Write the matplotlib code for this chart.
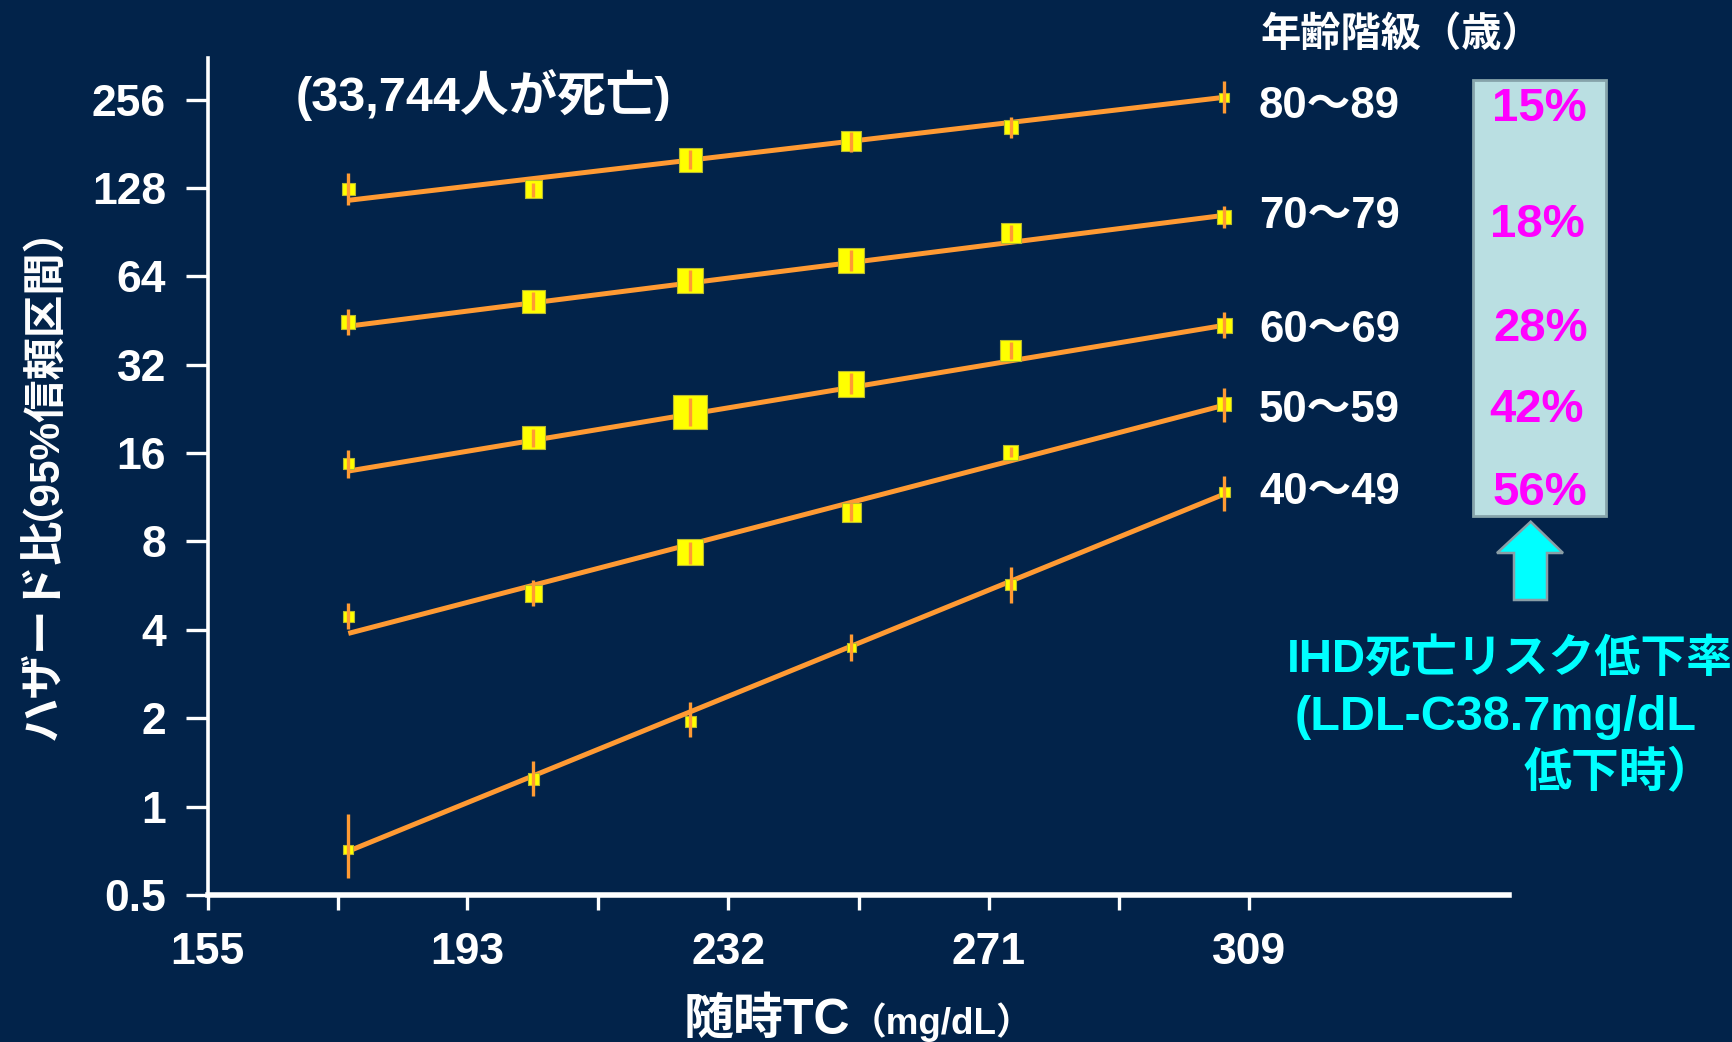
import matplotlib
matplotlib.use("Agg")
import matplotlib.pyplot as plt
from matplotlib.patches import Polygon, Rectangle

plt.rcParams['font.family'] = ['Liberation Sans', 'Noto Sans CJK JP', 'DejaVu Sans']
plt.rcParams['font.weight'] = 'bold'

# ---------------- data ----------------
tc_mgdl = [175.6, 203.1, 226.4, 250.3, 274.0, 305.7]   # group mean TC (mg/dL)

age_groups = ['80〜89', '70〜79', '60〜69', '50〜59', '40〜49']
reduction = ['15%', '18%', '28%', '42%', '56%']

hr_80 = [127, 127, 159.7, 185, 206, 260]
lo_80 = [111.8, 119, 148.3, 169.5, 189, 230]
hi_80 = [143.7, 132.9, 172, 198, 222.8, 295.7]
w_80 = [12, 16, 22, 19, 13, 9]
fit_80 = [116.2, 260.7]

hr_70 = [44.7, 52.6, 61.9, 72.4, 89.9, 102]
lo_70 = [40.3, 49.0, 56.9, 66.6, 84.3, 93.3]
hi_70 = [49.5, 56.5, 67.1, 78.6, 95.5, 110.9]
w_70 = [13, 22, 24, 24, 19, 13]
fit_70 = [43.3, 103.3]

hr_60 = [14.75, 18.1, 22.1, 27.5, 35.7, 43.6]
lo_60 = [13.2, 16.75, 19.75, 25.4, 33.4, 39.4]
hi_60 = [16.36, 19.4, 24.6, 29.9, 38.2, 48.3]
w_60 = [10, 21, 32, 24, 20, 14]
fit_60 = [13.9, 43.6]

hr_50 = [4.45, 5.33, 7.35, 10.06, 16.1, 23.5]
lo_50 = [4.02, 4.82, 6.69, 9.38, 15.5, 20.5]
hi_50 = [4.93, 5.93, 7.98, 10.8, 16.75, 26.6]
w_50 = [10, 16, 24, 18, 14, 13]
fit_50 = [3.89, 23.3]

hr_40 = [0.715, 1.24, 1.95, 3.49, 5.72, 11.8]
lo_40 = [0.57, 1.09, 1.72, 3.13, 4.93, 10.2]
hi_40 = [0.945, 1.43, 2.27, 3.86, 6.53, 13.4]
w_40 = [9, 11, 10, 8, 10, 10]
fit_40 = [0.705, 11.6]

yticks = [0.5, 1, 2, 4, 8, 16, 32, 64, 128, 256]
ytick_labels = ['0.5', '1', '2', '4', '8', '16', '32', '64', '128', '256']
xticks = [154.7, 193.3, 232.0, 270.7, 309.4]
xtick_labels = ['155', '193', '232', '271', '309']
xminor = [174.0, 212.7, 251.4, 290.0]

# ---------------- style ----------------
BG = '#02234A'
ORANGE = '#FF9A33'
YELLOW = '#FFFF00'
WHITE = 'white'
CYAN = '#00FFFF'
MAGENTA = '#FF00FF'

W_PX, H_PX = 1732, 1042
def fx(px):
    return px / W_PX
def fy(py):
    return 1 - py / H_PX

fig = plt.figure(figsize=(17.32, 10.42), dpi=100, facecolor=BG)
ax = fig.add_axes([fx(207.6), fy(895), fx(1509) - fx(207.6), fy(58) - fy(895)])
ax.set_facecolor(BG)

ax.set_yscale('log', base=2)
ax.set_ylim(0.5, 354.8)
ax.set_xlim(154.7, 348.0)

series = [
    (hr_80, lo_80, hi_80, w_80, fit_80),
    (hr_70, lo_70, hi_70, w_70, fit_70),
    (hr_60, lo_60, hi_60, w_60, fit_60),
    (hr_50, lo_50, hi_50, w_50, fit_50),
    (hr_40, lo_40, hi_40, w_40, fit_40),
]

for hr, lo, hi, w, fit in series:
    ax.plot([tc_mgdl[0], tc_mgdl[-1]], fit, color=ORANGE, lw=3.6,
            solid_capstyle='butt', zorder=3)
    ax.scatter(tc_mgdl, hr, marker='s', s=[(1.07 * v / 1.389) ** 2 for v in w],
               color=YELLOW, edgecolors='#B8B830', linewidths=0.8, zorder=4)
    ax.vlines(tc_mgdl, lo, hi, color=ORANGE, lw=2.4, zorder=5)

for s in ['top', 'right']:
    ax.spines[s].set_visible(False)
ax.spines['left'].set_color(WHITE)
ax.spines['left'].set_linewidth(2.6)
ax.spines['bottom'].set_color(WHITE)
ax.spines['bottom'].set_linewidth(4.0)

ax.set_yticks(yticks)
ax.set_yticklabels(ytick_labels)
ax.yaxis.set_minor_locator(matplotlib.ticker.NullLocator())
ax.set_xticks(xticks)
ax.set_xticklabels(xtick_labels)
ax.set_xticks(xminor, minor=True)
ax.tick_params(axis='y', which='major', direction='out', length=16, width=2.4,
               color=WHITE, labelcolor=WHITE, labelsize=32, pad=14)
ax.tick_params(axis='x', which='both', direction='out', length=11, width=2.4,
               color=WHITE, labelcolor=WHITE, labelsize=32, pad=16)
for lab in ax.get_xticklabels() + ax.get_yticklabels():
    lab.set_fontweight('bold')

# ---------------- axis labels ----------------
fig.text(fx(44), fy(740), 'ハザード比', rotation=90, rotation_mode='anchor',
         ha='left', va='center', color=WHITE, fontsize=32, fontweight='bold')
fig.text(fx(20), fy(520), '（95%信頼区間）', rotation=90, rotation_mode='anchor',
         ha='left', va='center', color=WHITE, fontsize=30.5, fontweight='bold')

fig.text(fx(850), fy(1034), '随時TC', ha='right', va='baseline',
         color=WHITE, fontsize=36, fontweight='bold')
fig.text(fx(850), fy(1034), '（mg/dL）', ha='left', va='baseline',
         color=WHITE, fontsize=26.5, fontweight='bold')

# ---------------- annotations ----------------
fig.text(fx(296), fy(95), '(33,744人が死亡)', ha='left', va='center',
         color=WHITE, fontsize=35, fontweight='bold')
fig.text(fx(1261), fy(35), '年齢階級（歳）', ha='left', va='center',
         color=WHITE, fontsize=29, fontweight='bold')

label_y = [106, 216.5, 330, 411, 493]
for lab, yy in zip(age_groups, label_y):
    fig.text(fx(1259), fy(yy), lab, ha='left', va='center',
             color=WHITE, fontsize=31.5, fontweight='bold')

# reduction box
fig.patches.append(Rectangle((fx(1472.5), fy(515.5)), fx(1605.5) - fx(1472.5),
                             fy(80.5) - fy(515.5), transform=fig.transFigure,
                             facecolor='#BADFE2', edgecolor='#86A3AA', lw=2.0))
pct_x = [1539, 1537, 1541, 1537, 1540]
pct_y = [109, 225, 329, 410, 493]
for lab, xx, yy in zip(reduction, pct_x, pct_y):
    fig.text(fx(xx), fy(yy), lab, ha='center', va='center',
             color=MAGENTA, fontsize=34, fontweight='bold')

# arrow
arrow_pts = [(1530.7, 521.7), (1563, 553), (1547, 553), (1547, 600),
             (1514, 600), (1514, 553), (1497, 553)]
fig.patches.append(Polygon([(fx(a), fy(b)) for a, b in arrow_pts], closed=True,
                           transform=fig.transFigure, facecolor=CYAN,
                           edgecolor='#8A9EA6', lw=1.8))

fig.text(fx(1287), fy(660), 'IHD死亡リスク低下率', ha='left', va='center',
         color=CYAN, fontsize=33, fontweight='bold')
fig.text(fx(1295), fy(718), '(LDL-C38.7mg/dL', ha='left', va='center',
         color=CYAN, fontsize=35, fontweight='bold')
fig.text(fx(1524), fy(774), '低下時）', ha='left', va='center',
         color=CYAN, fontsize=34.5, fontweight='bold')

fig.savefig('out.png', dpi=100, facecolor=BG)
